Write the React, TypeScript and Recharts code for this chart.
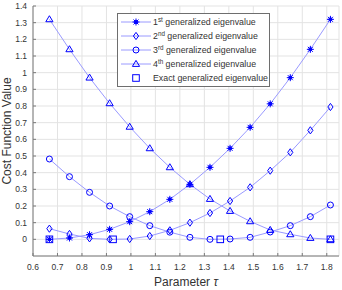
import {
  ComposedChart,
  Line,
  Scatter,
  XAxis,
  YAxis,
  CartesianGrid,
  Legend,
} from "recharts";

// parameter tau at which the cost function was evaluated
const tau = [0.667, 0.749, 0.831, 0.913, 0.995, 1.077, 1.159, 1.241, 1.323, 1.405, 1.487, 1.569, 1.651, 1.733, 1.815];

// cost function value for each generalized eigenvalue
const first = [0, 0.008, 0.028, 0.06, 0.106, 0.166, 0.24, 0.33, 0.432, 0.546, 0.672, 0.813, 0.97, 1.14, 1.32];
const second = [0.064, 0.032, 0.006, 0, 0.002, 0.02, 0.054, 0.1, 0.158, 0.23, 0.312, 0.412, 0.522, 0.654, 0.794];
const third = [0.482, 0.376, 0.282, 0.2, 0.136, 0.082, 0.043, 0.012, 0, 0.002, 0.012, 0.044, 0.082, 0.136, 0.206];
const fourth = [1.32, 1.14, 0.97, 0.816, 0.675, 0.546, 0.432, 0.33, 0.242, 0.17, 0.108, 0.056, 0.03, 0.008, 0];

// exact generalized eigenvalues
const exactTau = [0.667, 0.927, 1.365, 1.815];
const exactValue = [0, 0, 0, 0];

const xTicks = [0.6, 0.7, 0.8, 0.9, 1, 1.1, 1.2, 1.3, 1.4, 1.5, 1.6, 1.7, 1.8];
const yTicks = [0, 0.1, 0.2, 0.3, 0.4, 0.5, 0.6, 0.7, 0.8, 0.9, 1, 1.1, 1.2, 1.3, 1.4];

const rows = tau.map((t, i) => ({
  tau: t,
  first: first[i],
  second: second[i],
  third: third[i],
  fourth: fourth[i],
}));
const exactRows = exactTau.map((t, i) => ({ tau: t, value: exactValue[i] }));

const BLUE = "#0000ff";
const LINE = "#9a9aff";
const FONT = "'Liberation Sans', Arial, Helvetica, sans-serif";
const TEXT = "#333333";

type Shape = "star" | "diamond" | "circle" | "triangle" | "square";

function Marker({ shape, cx, cy }: { shape: Shape; cx: number; cy: number }) {
  if (cx == null || cy == null) return null;
  const common = { stroke: BLUE, strokeWidth: 1, fill: "none" };
  switch (shape) {
    case "star":
      return (
        <g stroke={BLUE} strokeWidth={1}>
          <line x1={cx - 3.5} y1={cy} x2={cx + 3.5} y2={cy} />
          <line x1={cx} y1={cy - 3.5} x2={cx} y2={cy + 3.5} />
          <line x1={cx - 2.5} y1={cy - 2.5} x2={cx + 2.5} y2={cy + 2.5} />
          <line x1={cx - 2.5} y1={cy + 2.5} x2={cx + 2.5} y2={cy - 2.5} />
          <circle cx={cx} cy={cy} r={1.5} fill={BLUE} />
        </g>
      );
    case "diamond":
      return (
        <polygon
          {...common}
          points={`${cx},${cy - 3.6} ${cx + 2.6},${cy} ${cx},${cy + 3.6} ${cx - 2.6},${cy}`}
        />
      );
    case "circle":
      return <circle {...common} cx={cx} cy={cy} r={3} />;
    case "triangle":
      return (
        <polygon
          {...common}
          points={`${cx},${cy - 3.6} ${cx + 3.6},${cy + 2.4} ${cx - 3.6},${cy + 2.4}`}
        />
      );
    default:
      return <rect {...common} x={cx - 3.3} y={cy - 3.3} width={6.6} height={6.6} />;
  }
}

const dotFor = (shape: Shape) => (p: any) => (
  <Marker key={`${shape}-${p.index}`} shape={shape} cx={p.cx} cy={p.cy} />
);

const legendItems: { shape: Shape; ord?: string; sup?: string; text: string; line: boolean }[] = [
  { shape: "star", ord: "1", sup: "st", text: " generalized eigenvalue", line: true },
  { shape: "diamond", ord: "2", sup: "nd", text: " generalized eigenvalue", line: true },
  { shape: "circle", ord: "3", sup: "rd", text: " generalized eigenvalue", line: true },
  { shape: "triangle", ord: "4", sup: "th", text: " generalized eigenvalue", line: true },
  { shape: "square", text: "Exact generalized eigenvalue", line: false },
];

function LegendBox() {
  return (
    <div
      style={{
        border: "1px solid #6e6e6e",
        background: "#fff",
        width: 151,
        height: 71,
        paddingTop: 1,
        boxSizing: "content-box",
        fontFamily: FONT,
        fontSize: 8.8,
        color: TEXT,
      }}
    >
      {legendItems.map((it) => (
        <div key={it.shape} style={{ height: 14, display: "flex", alignItems: "center", whiteSpace: "nowrap" }}>
          <svg width={34} height={14} style={{ flex: "none" }}>
            {it.line && <line x1={3} y1={7} x2={33} y2={7} stroke={LINE} strokeWidth={1} />}
            <Marker shape={it.shape} cx={18} cy={7} />
          </svg>
          <span style={{ marginLeft: 1 }}>
            {it.ord}
            {it.sup && (
              <span style={{ fontSize: 6.3, position: "relative", top: -3.5, lineHeight: 0 }}>{it.sup}</span>
            )}
            {it.text}
          </span>
        </div>
      ))}
    </div>
  );
}

function YLabel(props: any) {
  const vb = props.viewBox || { x: 0, y: 6, width: 33, height: 250 };
  const x = vb.x + 10.5;
  const y = vb.y + vb.height / 2;
  return (
    <text
      x={x}
      y={y}
      transform={`rotate(-90 ${x} ${y})`}
      textAnchor="middle"
      fontFamily={FONT}
      fontSize={12}
      fill={TEXT}
    >
      Cost Function Value
    </text>
  );
}

function XLabel(props: any) {
  const vb = props.viewBox || { x: 33, y: 256, width: 306, height: 34 };
  return (
    <text
      x={vb.x + vb.width / 2}
      y={vb.y + 30}
      textAnchor="middle"
      fontFamily={FONT}
      fontSize={12}
      fill={TEXT}
    >
      Parameter <tspan fontStyle="italic">τ</tspan>
    </text>
  );
}

const fmt = (v: number) => String(Number(v.toFixed(1)));

export default function App() {
  const tick = { fill: TEXT, fontSize: 8.5, fontFamily: FONT };
  return (
    <div
      style={{
        position: "fixed",
        left: 0,
        top: 0,
        width: 342,
        height: 290,
        overflow: "hidden",
        background: "#fff",
      }}
    >
      <ComposedChart width={342} height={290} data={rows} margin={{ top: 6, right: 3, bottom: 0, left: 0 }}>
        <CartesianGrid stroke="#e3e3e3" strokeWidth={1} />
        <XAxis
          type="number"
          dataKey="tau"
          domain={[0.6, 1.85]}
          ticks={xTicks}
          interval={0}
          allowDataOverflow
          height={34}
          tickSize={-3}
          tickMargin={11}
          tick={tick}
          tickLine={{ stroke: "#7a7a7a" }}
          axisLine={{ stroke: "#7a7a7a" }}
          tickFormatter={fmt}
          label={<XLabel />}
        />
        <YAxis
          type="number"
          domain={[-0.1, 1.4]}
          ticks={yTicks}
          interval={0}
          allowDataOverflow
          width={33}
          tickSize={-3}
          tickMargin={9}
          tick={tick}
          tickLine={{ stroke: "#7a7a7a" }}
          axisLine={{ stroke: "#7a7a7a" }}
          tickFormatter={fmt}
          label={<YLabel />}
        />
        <Line type="linear" dataKey="first" stroke={LINE} strokeWidth={1} dot={dotFor("star")} activeDot={false} isAnimationActive={false} />
        <Line type="linear" dataKey="second" stroke={LINE} strokeWidth={1} dot={dotFor("diamond")} activeDot={false} isAnimationActive={false} />
        <Line type="linear" dataKey="third" stroke={LINE} strokeWidth={1} dot={dotFor("circle")} activeDot={false} isAnimationActive={false} />
        <Line type="linear" dataKey="fourth" stroke={LINE} strokeWidth={1} dot={dotFor("triangle")} activeDot={false} isAnimationActive={false} />
        <Scatter
          data={exactRows}
          dataKey="value"
          isAnimationActive={false}
          shape={(p: any) => <Marker shape="square" cx={p.cx} cy={p.cy} />}
        />
        <Legend
          layout="vertical"
          align="center"
          verticalAlign="middle"
          content={<LegendBox />}
          wrapperStyle={{ left: 117, top: 13, width: 153, height: 73, margin: 0 }}
        />
      </ComposedChart>
    </div>
  );
}
